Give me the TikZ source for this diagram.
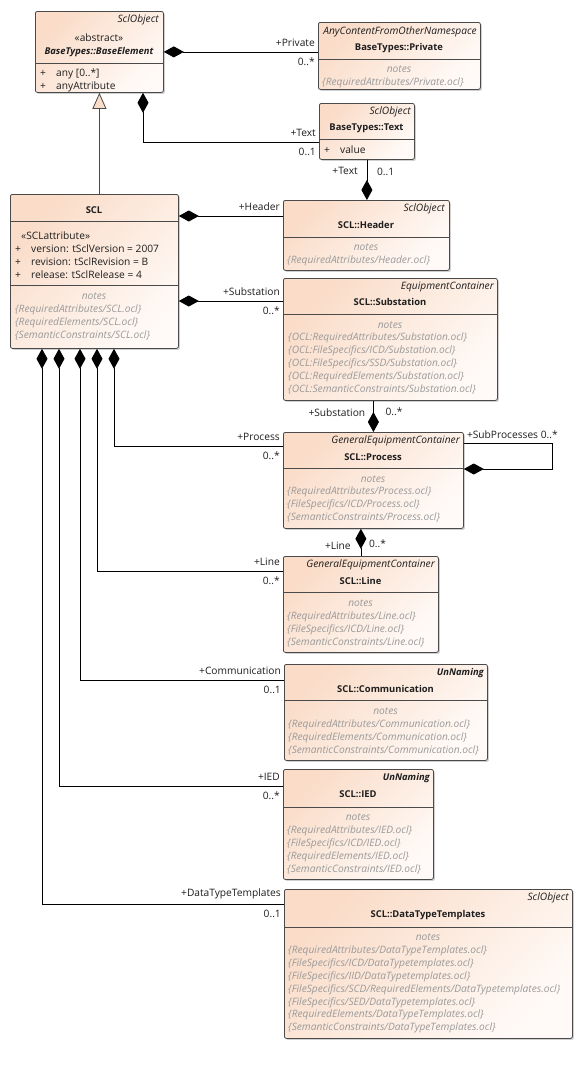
\documentclass[tikz,border=0pt]{standalone}
\usepackage{fontspec}
\setmainfont{Open Sans}
\usetikzlibrary{arrows.meta,calc,shadows}
\definecolor{umlline}{HTML}{4A4A4A}
\definecolor{umlpeach}{HTML}{FADCC8}
\definecolor{umlpale}{HTML}{FFFAF7}
\definecolor{umlnote}{HTML}{9A9A9A}
\definecolor{umlink}{HTML}{1E1E1E}
\newcommand{\umlsize}{\fontsize{10.2}{12.8}\selectfont}
\newcommand{\umlbold}{\fontsize{9.4}{12.8}\selectfont\bfseries}
\tikzset{
  classbox/.style={draw=umlline, line width=.8pt, rounded corners=2pt,
    anchor=north west, inner sep=0pt,
    top color=umlpeach, bottom color=umlpale, shading angle=45,
    drop shadow={shadow xshift=1.5pt, shadow yshift=-1.5pt, opacity=.3, fill=black!60}},
  sepline/.style={draw=umlline, line width=.8pt},
  stereo/.style={font=\umlsize\itshape, text=umlink, anchor=east, inner sep=0pt},
  stereobold/.style={stereo, font=\umlbold\itshape},
  clsname/.style={font=\umlbold, text=umlink, inner sep=0pt},
  attrtext/.style={font=\umlsize, text=umlink, anchor=west, inner sep=0pt},
  notehead/.style={font=\umlsize\itshape, text=umlnote, inner sep=0pt},
  notelist/.style={font=\umlsize\itshape, text=umlnote, align=left,
    anchor=north west, inner sep=0pt},
  rolelbl/.style={font=\umlsize, text=umlink, inner sep=0pt,
    anchor=south east, xshift=-3pt, yshift=5pt},
  multlbl/.style={font=\umlsize, text=umlink, inner sep=0pt,
    anchor=north east, xshift=-3pt, yshift=-6pt},
  endlbl/.style={font=\umlsize, text=umlink, inner sep=0pt},
  compo/.style={draw=black, line width=.8pt, -{Diamond[length=20pt, width=11pt]}},
  inherit/.style={draw=umlline, line width=.8pt,
    -{Triangle[open, length=16pt, width=14pt, fill=umlpeach]}}
}
\begin{document}
\begin{tikzpicture}[x=1pt,y=-1pt]
  \useasboundingbox[fill=white] (0,0) rectangle (583,1068);

  % BaseTypes
  \node[classbox, minimum width=128pt, minimum height=81pt] (base) at (35,11) {};
  \node[stereo] at (159,20) {SclObject};
  \node[attrtext, anchor=center] at (99,38) {«abstract»};
  \node[clsname, font=\umlbold\itshape] at (99,52) {BaseTypes::BaseElement};
  \draw[sepline] (35,63) -- (163,63);
  \node[attrtext] at (40,74) {\makebox[16pt][l]{+}any [0..*]};
  \node[attrtext] at (40,87) {\makebox[16pt][l]{+}anyAttribute};

  \node[classbox, minimum width=162pt, minimum height=67pt] (priv) at (318,22) {};
  \node[stereo] at (477,32) {AnyContentFromOtherNamespace};
  \node[clsname] at (399,48) {BaseTypes::Private};
  \draw[sepline] (318,59) -- (480,59);
  \node[notehead] at (399,69) {notes};
  \node[notelist] at (322,78) {\{RequiredAttributes/Private.ocl\}};

  \node[classbox, minimum width=95pt, minimum height=56pt] (txt) at (319,103) {};
  \node[stereo] at (411,112) {SclObject};
  \node[clsname] at (366.5,128) {BaseTypes::Text};
  \draw[sepline] (319,139) -- (414,139);
  \node[attrtext] at (324,150) {\makebox[16pt][l]{+}value};

  % SCL root
  \node[classbox, minimum width=168pt, minimum height=154pt] (scl) at (10,194) {};
  \node[clsname] at (94,210) {SCL};
  \draw[sepline] (10,221) -- (178,221);
  \node[attrtext] at (21,236) {«SCLattribute»};
  \node[attrtext] at (15,249) {\makebox[16pt][l]{+}version: tSclVersion = 2007};
  \node[attrtext] at (15,262) {\makebox[16pt][l]{+}revision: tSclRevision = B};
  \node[attrtext] at (15,275) {\makebox[16pt][l]{+}release: tSclRelease = 4};
  \draw[sepline] (10,285) -- (178,285);
  \node[notehead] at (94,296) {notes};
  \node[notelist] at (15,304.5) {\{RequiredAttributes/SCL.ocl\}\\
    \{RequiredElements/SCL.ocl\}\\ \{SemanticConstraints/SCL.ocl\}};

  % SCL children
  \node[classbox, minimum width=166pt, minimum height=70pt] (hdr) at (283,200) {};
  \node[stereo] at (445,209) {SclObject};
  \node[clsname] at (366,225) {SCL::Header};
  \draw[sepline] (283,237) -- (449,237);
  \node[notehead] at (366,247) {notes};
  \node[notelist] at (287,256) {\{RequiredAttributes/Header.ocl\}};

  \node[classbox, minimum width=214pt, minimum height=122pt] (subst) at (283,278) {};
  \node[stereo] at (494,287) {EquipmentContainer};
  \node[clsname] at (390,302) {SCL::Substation};
  \draw[sepline] (283,314) -- (497,314);
  \node[notehead] at (390,325) {notes};
  \node[notelist] at (288,333) {\{OCL:RequiredAttributes/Substation.ocl\}\\
    \{OCL:FileSpecifics/ICD/Substation.ocl\}\\ \{OCL:FileSpecifics/SSD/Substation.ocl\}\\
    \{OCL:RequiredElements/Substation.ocl\}\\ \{OCL:SemanticConstraints/Substation.ocl\}};

  \node[classbox, minimum width=180pt, minimum height=96pt] (proc) at (283,432) {};
  \node[stereo] at (460,441) {GeneralEquipmentContainer};
  \node[clsname] at (373,457) {SCL::Process};
  \draw[sepline] (283,468) -- (463,468);
  \node[notehead] at (373,479) {notes};
  \node[notelist] at (287,487) {\{RequiredAttributes/Process.ocl\}\\
    \{FileSpecifics/ICD/Process.ocl\}\\ \{SemanticConstraints/Process.ocl\}};

  \node[classbox, minimum width=155pt, minimum height=96pt] (line) at (283,556) {};
  \node[stereo] at (435,565) {GeneralEquipmentContainer};
  \node[clsname] at (360.5,581) {SCL::Line};
  \draw[sepline] (283,592) -- (438,592);
  \node[notehead] at (360.5,603) {notes};
  \node[notelist] at (287,612) {\{RequiredAttributes/Line.ocl\}\\
    \{FileSpecifics/ICD/Line.ocl\}\\ \{SemanticConstraints/Line.ocl\}};

  \node[classbox, minimum width=203pt, minimum height=96pt] (comm) at (284,664) {};
  \node[stereobold] at (484,673) {UnNaming};
  \node[clsname] at (385.5,689) {SCL::Communication};
  \draw[sepline] (284,700) -- (487,700);
  \node[notehead] at (385.5,711) {notes};
  \node[notelist] at (288,720) {\{RequiredAttributes/Communication.ocl\}\\
    \{RequiredElements/Communication.ocl\}\\ \{SemanticConstraints/Communication.ocl\}};

  \node[classbox, minimum width=150pt, minimum height=110pt] (ied) at (283,769) {};
  \node[stereobold] at (430,778) {UnNaming};
  \node[clsname] at (358,794) {SCL::IED};
  \draw[sepline] (283,807) -- (433,807);
  \node[notehead] at (358,817) {notes};
  \node[notelist] at (287,826) {\{RequiredAttributes/IED.ocl\}\\
    \{FileSpecifics/ICD/IED.ocl\}\\ \{RequiredElements/IED.ocl\}\\
    \{SemanticConstraints/IED.ocl\}};

  \node[classbox, minimum width=288pt, minimum height=149pt] (dtt) at (284,889) {};
  \node[stereo] at (569,898) {SclObject};
  \node[clsname] at (428,915) {SCL::DataTypeTemplates};
  \draw[sepline] (284,927) -- (572,927);
  \node[notehead] at (428,937) {notes};
  \node[notelist] at (288,946) {\{RequiredAttributes/DataTypeTemplates.ocl\}\\
    \{FileSpecifics/ICD/DataTypetemplates.ocl\}\\
    \{FileSpecifics/IID/DataTypetemplates.ocl\}\\
    \{FileSpecifics/SCD/RequiredElements/DataTypetemplates.ocl\}\\
    \{FileSpecifics/SED/DataTypetemplates.ocl\}\\
    \{RequiredElements/DataTypeTemplates.ocl\}\\
    \{SemanticConstraints/DataTypeTemplates.ocl\}};

  % connector ends
  \coordinate (txtin) at ([yshift=-39pt]txt.north west);
  \coordinate (hdrin) at ([yshift=-16pt]hdr.north west);
  \coordinate (subin) at ([yshift=-23pt]subst.north west);
  \coordinate (procin) at ([yshift=-14pt]proc.north west);
  \coordinate (linein) at ([yshift=-15pt]line.north west);
  \coordinate (commin) at ([yshift=-16pt]comm.north west);
  \coordinate (iedin) at ([yshift=-17pt]ied.north west);
  \coordinate (dttin) at ([yshift=-15pt]dtt.north west);
  \coordinate (subout) at ([yshift=-11pt]proc.north east);
  \coordinate (subback) at ([yshift=-37pt]proc.north east);

  % associations
  \draw[compo] (priv.west |- base.east) -- (base.east);
  \node[rolelbl] at (priv.west |- base.east) {+Private};
  \node[multlbl] at (priv.west |- base.east) {0..*};
  \draw[compo] (txtin) -| ([xshift=108pt]base.south west);
  \node[rolelbl] at (txtin) {+Text};
  \node[multlbl] at (txtin) {0..1};
  \draw[compo] (txt.south) -- (txt.south |- hdr.north);
  \node[endlbl, anchor=east] at ([xshift=-9pt,yshift=-11pt]txt.south) {+Text};
  \node[endlbl, anchor=west] at ([xshift=10pt,yshift=-12pt]txt.south) {0..1};
  \draw[inherit] (scl.north -| base.south) -- (base.south);

  \draw[compo] (hdrin) -- (scl.east |- hdrin);
  \node[rolelbl] at (hdrin) {+Header};
  \draw[compo] (subin) -- (scl.east |- subin);
  \node[rolelbl] at (subin) {+Substation};
  \node[multlbl] at (subin) {0..*};

  \draw[compo] (subst.south -| proc.north) -- (proc.north);
  \node[endlbl, anchor=east] at ([xshift=-8pt,yshift=19pt]proc.north) {+Substation};
  \node[endlbl, anchor=west] at ([xshift=12pt,yshift=20pt]proc.north) {0..*};
  \draw[compo] (subout) -- ++(89pt,0) |- (subback);
  \node[endlbl, anchor=south west] at ([xshift=3pt,yshift=4pt]subout) {+SubProcesses 0..*};
  \draw[compo] (line.north) -- (line.north |- proc.south);
  \node[endlbl, anchor=east] at ([xshift=-10pt,yshift=10pt]line.north) {+Line};
  \node[endlbl, anchor=west] at ([xshift=8pt,yshift=12pt]line.north) {0..*};

  \draw[compo] (procin) -| ([xshift=104pt]scl.south west);
  \node[rolelbl] at (procin) {+Process};
  \node[multlbl] at (procin) {0..*};
  \draw[compo] (linein) -| ([xshift=87pt]scl.south west);
  \node[rolelbl] at (linein) {+Line};
  \node[multlbl] at (linein) {0..*};
  \draw[compo] (commin) -| ([xshift=70pt]scl.south west);
  \node[rolelbl] at (commin) {+Communication};
  \node[multlbl] at (commin) {0..1};
  \draw[compo] (iedin) -| ([xshift=49pt]scl.south west);
  \node[rolelbl] at (iedin) {+IED};
  \node[multlbl] at (iedin) {0..*};
  \draw[compo] (dttin) -| ([xshift=32pt]scl.south west);
  \node[rolelbl] at (dttin) {+DataTypeTemplates};
  \node[multlbl] at (dttin) {0..1};
\end{tikzpicture}
\end{document}
